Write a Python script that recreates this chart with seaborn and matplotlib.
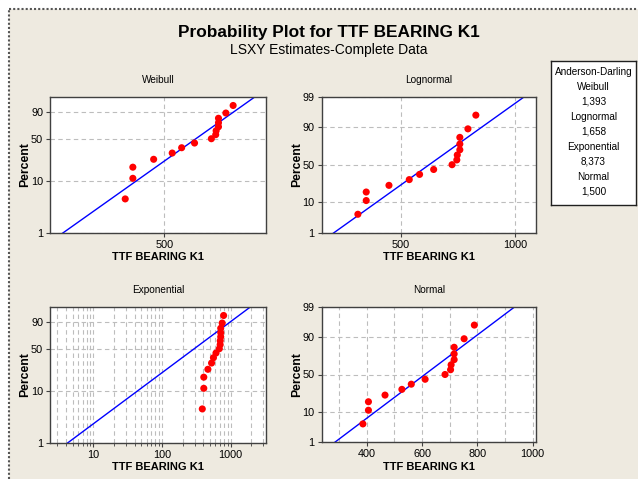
import numpy as np
import pandas as pd
import seaborn as sns
import matplotlib.pyplot as plt
from statistics import NormalDist
from matplotlib.patches import Rectangle
from matplotlib.lines import Line2D
from matplotlib.ticker import NullLocator, NullFormatter, FixedLocator, LogLocator

# failure times (sorted) and their median-rank plotting positions
ttf = [386, 406, 406, 466, 527, 561, 611, 683, 703, 705, 716, 716, 716, 752, 789]
percent = [4.5, 11.0, 17.5, 24.0, 30.5, 37.0, 43.5, 50.0, 56.5, 63.0, 69.5, 76.0, 82.5, 89.0, 95.5]

# LSXY fitted parameters
weibull_shape, weibull_scale = 4.82, 665
lognormal_loc, lognormal_scale = 6.388, 0.248
exponential_mean = 425
normal_mean, normal_sd = 610, 140

ad_names = ["Weibull", "Lognormal", "Exponential", "Normal"]
ad_values = ["1,393", "1,658", "8,373", "1,500"]

BEIGE = "#EEEAE0"
W, H = 638, 479

sns.set_theme(style="white", rc={"text.color": "black", "axes.labelcolor": "black",
                                 "xtick.color": "black", "ytick.color": "black"})
plt.rcParams['font.family'] = ['Liberation Sans', 'DejaVu Sans']

nd = NormalDist()
_ppf = np.vectorize(nd.inv_cdf, otypes=[float])
_cdf = np.vectorize(nd.cdf, otypes=[float])


def norm_fwd(p):
    p = np.clip(np.asarray(p, float) / 100, 1e-9, 1 - 1e-9)
    return _ppf(p)


def norm_inv(z):
    return 100 * _cdf(np.clip(np.asarray(z, float), -30, 30))


def weib_fwd(p):
    p = np.clip(np.asarray(p, float) / 100, 1e-9, 1 - 1e-12)
    return np.log(-np.log(1 - p))


def weib_inv(y):
    y = np.clip(np.asarray(y, float), -30, 3.3)
    return 100 * (1 - np.exp(-np.exp(y)))


def box(l, t, r, b):
    return [l / W, 1 - b / H, (r - l) / W, (b - t) / H]


fig = plt.figure(figsize=(W / 100, H / 100), dpi=100, facecolor=BEIGE)
# white strips + dotted frame at top / left
fig.add_artist(Rectangle((0, 1 - 8 / H), 1, 8 / H, transform=fig.transFigure, color="white", zorder=0))
fig.add_artist(Rectangle((0, 0), 8 / W, 1, transform=fig.transFigure, color="white", zorder=0))
fig.add_artist(Line2D([8.5 / W, 8.5 / W], [0, 1 - 8.5 / H], transform=fig.transFigure,
                      color="#555555", lw=1.5, ls=(0, (1, 1))))
fig.add_artist(Line2D([8.5 / W, 1], [1 - 8.5 / H, 1 - 8.5 / H], transform=fig.transFigure,
                      color="#555555", lw=1.5, ls=(0, (1, 1))))

fig.text(328.5 / W, 1 - 32 / H, "Probability Plot for TTF BEARING K1", fontsize=12.4,
         weight="bold", ha="center", va="center")
fig.text(329 / W, 1 - 50 / H, "LSXY Estimates-Complete Data", fontsize=10,
         ha="center", va="center")

grid_kw = dict(color="#BDBDBD", lw=0.8, ls=(0, (4, 3)))


def panel(rect, title, yscale, yticks, xs, ys):
    ax = fig.add_axes(rect)
    ax.set_facecolor("white")
    sns.lineplot(x=xs, y=ys, ax=ax, color="#0000FF", lw=1, estimator=None, sort=False, zorder=2)
    sns.scatterplot(x=ttf, y=percent, ax=ax, color="#FF0000", s=26, edgecolor="none", zorder=3)
    if yscale == "weibull":
        ax.set_yscale("function", functions=(weib_fwd, weib_inv))
    else:
        ax.set_yscale("function", functions=(norm_fwd, norm_inv))
    ax.set_ylim(1, 99)
    ax.yaxis.set_major_locator(FixedLocator(yticks))
    ax.set_yticklabels([str(t) for t in yticks])
    ax.yaxis.set_minor_locator(NullLocator())
    ax.set_title(title, fontsize=7.2, pad=10)
    ax.set_xlabel("TTF BEARING K1", fontsize=8, weight="bold", labelpad=2)
    ax.set_ylabel("Percent", fontsize=8.8, weight="bold", labelpad=0)
    ax.tick_params(bottom=True, left=True, length=3, width=0.8, pad=2, labelsize=7.8,
                   color="#404040", labelcolor="black")
    ax.tick_params(which="minor", bottom=True, length=2, width=0.6, color="#404040")
    for s in ax.spines.values():
        s.set_color("#404040")
        s.set_linewidth(1)
    return ax


# Weibull
xw = np.geomspace(234.5, 981, 300)
ax = panel(box(50, 96.7, 266, 232.7), "Weibull", "weibull", [1, 10, 50, 90], xw,
           100 * (1 - np.exp(-(xw / weibull_scale) ** weibull_shape)))
ax.set_xscale("log")
ax.set_xlim(234.5, 981)
ax.xaxis.set_major_locator(FixedLocator([500]))
ax.set_xticklabels(["500"])
ax.xaxis.set_minor_locator(NullLocator())
ax.xaxis.set_minor_formatter(NullFormatter())
ax.grid(True, which="major", **grid_kw)

# Lognormal
xl = np.geomspace(310, 1136, 300)
ax = panel(box(321.7, 96.7, 536, 232.7), "Lognormal", "normal", [1, 10, 50, 90, 99], xl,
           norm_inv((np.log(xl) - lognormal_loc) / lognormal_scale))
ax.set_xscale("log")
ax.set_xlim(310, 1136)
ax.xaxis.set_major_locator(FixedLocator([500, 1000]))
ax.set_xticklabels(["500", "1000"])
ax.xaxis.set_minor_locator(NullLocator())
ax.xaxis.set_minor_formatter(NullFormatter())
ax.grid(True, which="major", **grid_kw)

# Exponential
xe = np.geomspace(2.34, 3268, 300)
ax = panel(box(50, 306.7, 266, 442.7), "Exponential", "weibull", [1, 10, 50, 90], xe,
           100 * (1 - np.exp(-xe / exponential_mean)))
ax.set_xscale("log")
ax.set_xlim(2.34, 3268)
ax.xaxis.set_major_locator(FixedLocator([10, 100, 1000]))
ax.set_xticklabels(["10", "100", "1000"])
ax.xaxis.set_minor_locator(LogLocator(base=10, subs=np.arange(2, 10)))
ax.xaxis.set_minor_formatter(NullFormatter())
ax.grid(True, which="both", axis="x", **grid_kw)
ax.grid(True, which="major", axis="y", **grid_kw)

# Normal
xn = np.linspace(237, 1012, 300)
ax = panel(box(321.7, 306.7, 536, 442.3), "Normal", "normal", [1, 10, 50, 90, 99], xn,
           norm_inv((xn - normal_mean) / normal_sd))
ax.set_xlim(237, 1012)
ax.xaxis.set_major_locator(FixedLocator([400, 600, 800, 1000]))
ax.set_xticklabels(["400", "600", "800", "1000"])
ax.xaxis.set_minor_locator(FixedLocator([300, 500, 700, 900]))
ax.tick_params(which="minor", length=0)
ax.grid(True, which="both", **grid_kw)

# Anderson-Darling box
lg = fig.add_axes(box(551, 61, 636, 205))
lg.set_facecolor("white")
lg.set_xticks([])
lg.set_yticks([])
for s in lg.spines.values():
    s.set_color("#202020")
    s.set_linewidth(1)
lines = ["Anderson-Darling"]
for n, v in zip(ad_names, ad_values):
    lines += [n, v]
for i, t in enumerate(lines):
    y = 72 + i * 15
    fig.text(593.5 / W, 1 - y / H, t, fontsize=7.2, ha="center", va="center")

fig.savefig("out.png", dpi=100, facecolor=BEIGE)
